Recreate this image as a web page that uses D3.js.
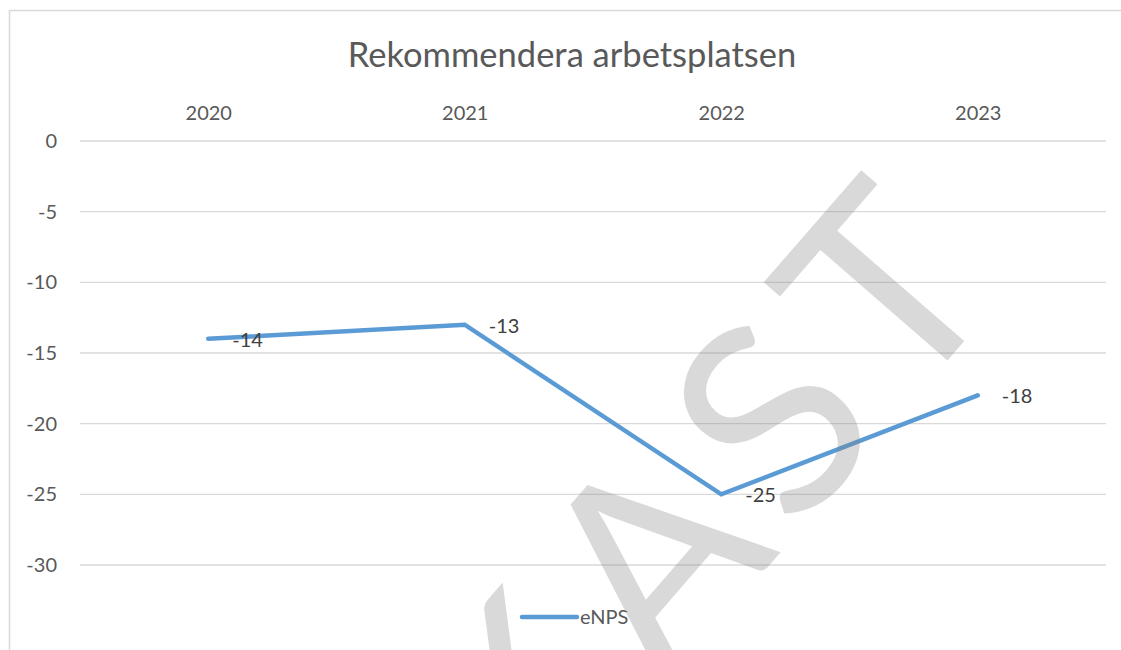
<!DOCTYPE html>
<html>
<head>
<meta charset="utf-8">
<script src="https://cdn.jsdelivr.net/npm/d3@7"></script>
<style>
  body { margin: 0; background: #fff; }
  text { font-family: Lato, "Open Sans", sans-serif; }
</style>
</head>
<body>
<div id="chart"></div>
<script>
// data
var years = ["2020", "2021", "2022", "2023"];
var enps = [-14, -13, -25, -18];
var yTicks = [0, -5, -10, -15, -20, -25, -30];
var seriesName = "eNPS";
var title = "Rekommendera arbetsplatsen";
var watermark = "UTKAST";

var W = 1121, H = 650;
var margin = { top: 141, right: 15, bottom: 85, left: 80 },
    width = W - margin.left - margin.right,
    height = H - margin.top - margin.bottom;

var svg = d3.select("#chart").append("svg")
    .attr("width", W)
    .attr("height", H);

// chart border (cut off at right and bottom like the reference)
svg.append("rect")
    .attr("x", 9.5).attr("y", 10.5)
    .attr("width", W + 20).attr("height", H + 20)
    .attr("fill", "#fff")
    .attr("stroke", "#d9d9d9")
    .attr("stroke-width", 1.5);

svg.append("text")
    .attr("x", 572)
    .attr("y", 55)
    .attr("dy", "0.35em")
    .attr("text-anchor", "middle")
    .attr("fill", "#595959")
    .style("font-size", "34.5px")
    .text(title);

var g = svg.append("g")
    .attr("transform", "translate(" + margin.left + "," + margin.top + ")");

var x = d3.scalePoint()
    .domain(years)
    .range([0, width])
    .padding(0.5);

var y = d3.scaleLinear()
    .domain([0, -30])
    .range([0, 424]);

// gridlines
g.selectAll(".grid")
    .data(yTicks)
    .enter().append("line")
    .attr("class", "grid")
    .attr("x1", 0).attr("x2", width)
    .attr("y1", function (d) { return y(d); })
    .attr("y2", function (d) { return y(d); })
    .attr("stroke", "#d9d9d9")
    .attr("stroke-width", 1.3);

// y axis labels (plain hyphen like the original)
var yAxis = g.append("g")
    .call(d3.axisLeft(y).tickValues(yTicks).tickSize(0).tickPadding(23)
        .tickFormat(function (d) { return String(d); }));
yAxis.select(".domain").remove();
yAxis.selectAll("text")
    .attr("fill", "#595959")
    .style("font-size", "20px");

// year labels on top
var xAxis = g.append("g")
    .call(d3.axisTop(x).tickSize(0).tickPadding(21));
xAxis.select(".domain").remove();
xAxis.selectAll("text")
    .attr("fill", "#595959")
    .style("font-size", "20px");

var line = d3.line()
    .x(function (d, i) { return x(years[i]); })
    .y(function (d) { return y(d); });

g.append("path")
    .datum(enps)
    .attr("d", line)
    .attr("fill", "none")
    .attr("stroke", "#5b9bd5")
    .attr("stroke-width", 4.5)
    .attr("stroke-linecap", "round")
    .attr("stroke-linejoin", "miter");

g.selectAll(".lbl")
    .data(enps)
    .enter().append("text")
    .attr("class", "lbl")
    .attr("x", function (d, i) { return x(years[i]) + 24; })
    .attr("y", function (d) { return y(d) + 1; })
    .attr("dy", "0.35em")
    .attr("fill", "#404040")
    .style("font-size", "20px")
    .text(function (d) { return d; });

// legend
var lg = svg.append("g").attr("transform", "translate(522,617)");
lg.append("line")
    .attr("x1", 0).attr("x2", 55)
    .attr("stroke", "#5b9bd5")
    .attr("stroke-width", 4.5)
    .attr("stroke-linecap", "round");
lg.append("text")
    .attr("x", 58)
    .attr("dy", "0.35em")
    .attr("fill", "#595959")
    .style("font-size", "20px")
    .text(seriesName);

// draft watermark on top, semi transparent
svg.append("text")
    .attr("transform", "translate(578,644) rotate(-49)")
    .attr("text-anchor", "middle")
    .attr("dy", "0.35em")
    .attr("fill", "#808080")
    .attr("fill-opacity", 0.3)
    .style("font-size", "265px")
    .style("letter-spacing", "22px")
    .text(watermark);
</script>
</body>
</html>
